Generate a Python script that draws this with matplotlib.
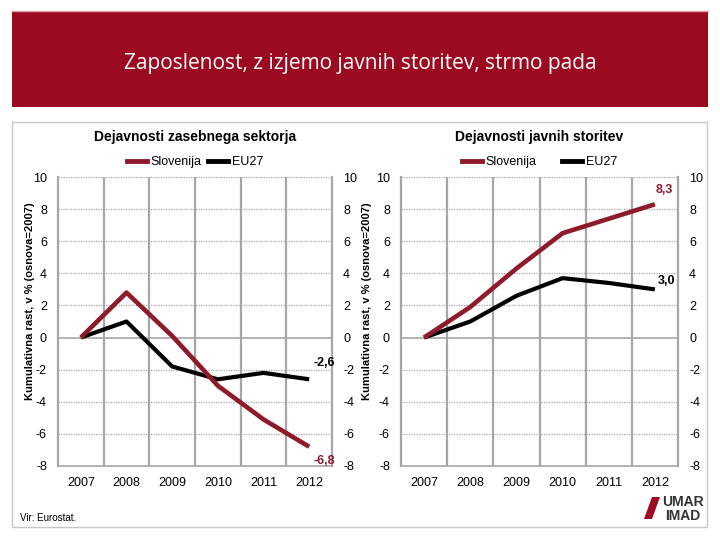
import matplotlib
matplotlib.use("Agg")
import matplotlib.pyplot as plt
from matplotlib.patches import Rectangle, Polygon
from matplotlib.lines import Line2D

years = ["2007", "2008", "2009", "2010", "2011", "2012"]
priv_si = [0.0, 2.8, 0.1, -3.0, -5.1, -6.8]
priv_eu = [0.0, 1.0, -1.8, -2.6, -2.2, -2.6]
pub_si = [0.0, 1.9, 4.3, 6.5, 7.4, 8.3]
pub_eu = [0.0, 1.0, 2.6, 3.7, 3.4, 3.0]
yticks = [-8, -6, -4, -2, 0, 2, 4, 6, 8, 10]
titles = ["Dejavnosti zasebnega sektorja", "Dejavnosti javnih storitev"]
main_title = "Zaposlenost, z izjemo javnih storitev, strmo pada"
ylabel = "Kumulativna rast, v % (osnova=2007)"
series_names = ["Slovenija", "EU27"]

RED = "#8e1a2c"
BANNER = "#9c0a22"
GRID = "#a6a6a6"
FONT = "Liberation Sans"

W, H = 720, 540
fig = plt.figure(figsize=(7.2, 5.4), dpi=100)
fig.patch.set_facecolor("white")

def fx(px):
    return px / W

def fy(py):
    return 1 - py / H

# banner
fig.patches.append(Rectangle((fx(12), fy(107)), fx(708) - fx(12), fy(12) - fy(107),
                             transform=fig.transFigure, facecolor=BANNER, edgecolor="none"))
fig.lines.append(Line2D([fx(12), fx(708)], [fy(11), fy(11)], transform=fig.transFigure,
                        color="#e0a0a8", lw=1))
fig.text(fx(360), fy(63), main_title, color="white", fontsize=15, family="Open Sans",
         ha="center", va="center")

# frame
fig.lines.append(Line2D([fx(12), fx(707), fx(707), fx(12), fx(12)],
                        [fy(122), fy(122), fy(527), fy(527), fy(122)],
                        transform=fig.transFigure, color="#c8c8c8", lw=1))

panels = [
    (58, 332, priv_si, priv_eu, titles[0], "-2,6", "-6,8", 30, 0.5),
    (401, 678, pub_si, pub_eu, titles[1], "3,0", "8,3", 367, 2.0),
]

x = list(range(len(years)))
for (l, r, si, eu, title, eu_lab, si_lab, ylx, colsp) in panels:
    ax = fig.add_axes([fx(l), fy(466), fx(r) - fx(l), fy(177) - fy(466)])
    ax.set_xlim(-0.5, len(years) - 0.5)
    ax.set_ylim(-8, 10)
    for yv in yticks:
        if yv in (0, -8):
            continue
        ax.axhline(yv, color=GRID, lw=0.9, ls=(0, (1, 1)), zorder=1)
    ax.axhline(0, color=GRID, lw=1.2, zorder=1)
    for xv in [i + 0.5 for i in range(len(years) - 1)]:
        ax.axvline(xv, color=GRID, lw=1.6, zorder=1)
    for s in ["left", "right"]:
        ax.spines[s].set_color(GRID)
        ax.spines[s].set_linewidth(1.6)
    ax.spines["top"].set_visible(False)
    ax.spines["bottom"].set_color(GRID)
    ax.spines["bottom"].set_linewidth(1.2)
    ax.plot(x, eu, color="black", lw=3, solid_capstyle="butt", zorder=3, label=series_names[1])
    ax.plot(x, si, color=RED, lw=3.3, solid_capstyle="butt", zorder=4, label=series_names[0])
    ax.set_xticks(x)
    ax.set_xticklabels(years, family=FONT, fontsize=9)
    ax.set_yticks(yticks)
    ax.set_yticklabels([str(v) for v in yticks], family=FONT, fontsize=9)
    ax.tick_params(axis="y", length=0, labelright=True, pad=8)
    ax.tick_params(axis="x", length=0, pad=8)
    handles = [Line2D([], [], color=RED, lw=3.5), Line2D([], [], color="black", lw=3.5)]
    ax.legend(handles, series_names, loc="lower center", bbox_to_anchor=(0.5, 1.0),
              ncol=2, frameon=False, prop={"family": FONT, "size": 9},
              handlelength=1.6, handletextpad=0.3, columnspacing=colsp, borderaxespad=0.3)
    fig.text(fx((l + r) / 2), fy(137), title, family=FONT, fontsize=10, fontweight="bold",
             ha="center", va="center")
    fig.text(fx(ylx), fy(301), ylabel, family=FONT, fontsize=8,
             fontweight="bold", rotation=90, ha="center", va="center")
    # end labels
    n = len(years) - 1
    if si[-1] < eu[-1]:
        ax.annotate(eu_lab, (n, eu[-1]), xytext=(11, 12), textcoords="offset points",
                    ha="center", va="center", family=FONT, fontsize=9, fontweight="bold",
                    color="black")
        ax.annotate(si_lab, (n, si[-1]), xytext=(11, -10), textcoords="offset points",
                    ha="center", va="center", family=FONT, fontsize=9, fontweight="bold",
                    color=RED)
    else:
        ax.annotate(si_lab, (n, si[-1]), xytext=(7, 10), textcoords="offset points",
                    ha="center", va="center", family=FONT, fontsize=9, fontweight="bold",
                    color=RED)
        ax.annotate(eu_lab, (n, eu[-1]), xytext=(8, 6), textcoords="offset points",
                    ha="center", va="center", family=FONT, fontsize=9, fontweight="bold",
                    color="black")

fig.text(fx(20), fy(518), "Vir: Eurostat.", family=FONT, fontsize=7, ha="left", va="center")

# logo
fig.patches.append(Polygon([(fx(644), fy(519)), (fx(652), fy(497)), (fx(660), fy(497)),
                            (fx(652), fy(519))], closed=True, transform=fig.transFigure,
                           facecolor=BANNER, edgecolor="none"))
fig.text(fx(683), fy(502), "UMAR", family=FONT, fontsize=10, fontweight="bold",
         color="#333333", ha="center", va="center")
fig.text(fx(683), fy(516), "IMAD", family=FONT, fontsize=10, fontweight="bold",
         color="#333333", ha="center", va="center")

fig.savefig("out.png", dpi=100)
